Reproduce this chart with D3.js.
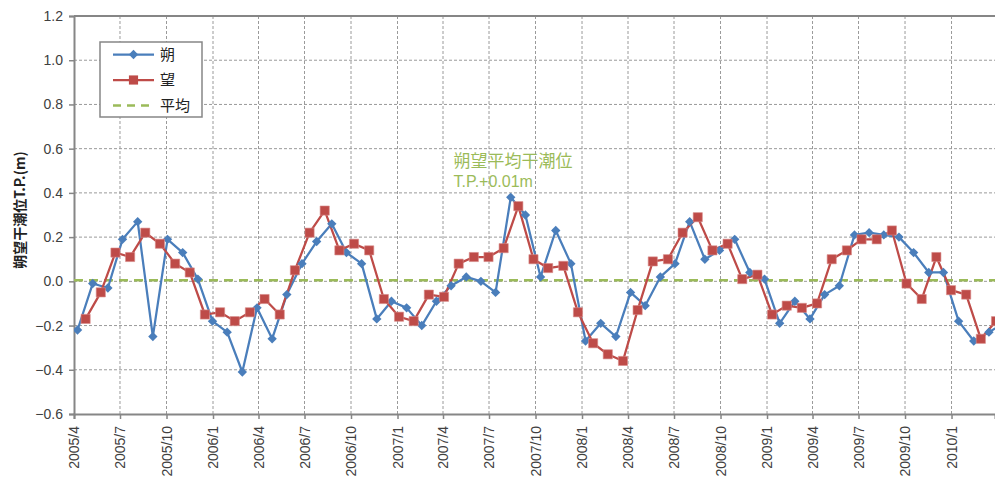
<!DOCTYPE html>
<html>
<head>
<meta charset="utf-8">
<script src="https://cdn.jsdelivr.net/npm/d3@7"></script>
<style>
  body { margin: 0; background: #fff; }
  #chart { width: 995px; height: 478px; }
  text { font-family: "Liberation Sans", "Noto Sans CJK JP", sans-serif; }
</style>
</head>
<body>
<div id="chart"></div>
<script>
// 朔 (new moon) dates and values
var sakuDates = [
  "2005-04-08","2005-05-08","2005-06-07","2005-07-06","2005-08-05","2005-09-04","2005-10-03","2005-11-02","2005-12-02","2005-12-31",
  "2006-01-29","2006-02-28","2006-03-29","2006-04-28","2006-05-27","2006-06-26","2006-07-25","2006-08-24","2006-09-22","2006-10-22","2006-11-21","2006-12-20",
  "2007-01-19","2007-02-18","2007-03-19","2007-04-17","2007-05-17","2007-06-15","2007-07-14","2007-08-13","2007-09-11","2007-10-11","2007-11-10","2007-12-10",
  "2008-01-08","2008-02-07","2008-03-08","2008-04-06","2008-05-05","2008-06-04","2008-07-03","2008-08-01","2008-08-31","2008-09-29","2008-10-29","2008-11-28","2008-12-27",
  "2009-01-26","2009-02-25","2009-03-27","2009-04-25","2009-05-24","2009-06-23","2009-07-22","2009-08-20","2009-09-19","2009-10-18","2009-11-17","2009-12-16",
  "2010-01-15","2010-02-14","2010-03-16","2010-04-14"
];
var sakuValues = [
  -0.22, -0.01, -0.03, 0.19, 0.27, -0.25, 0.19, 0.13, 0.01, -0.18,
  -0.23, -0.41, -0.12, -0.26, -0.06, 0.08, 0.18, 0.26, 0.13, 0.08, -0.17, -0.09,
  -0.12, -0.20, -0.09, -0.02, 0.02, 0.00, -0.05, 0.38, 0.30, 0.02, 0.23, 0.08,
  -0.27, -0.19, -0.25, -0.05, -0.11, 0.02, 0.08, 0.27, 0.10, 0.14, 0.19, 0.04, 0.01,
  -0.19, -0.09, -0.17, -0.06, -0.02, 0.21, 0.22, 0.21, 0.20, 0.13, 0.04, 0.04,
  -0.18, -0.27, -0.23, -0.19
];

// 望 (full moon) dates and values
var boDates = [
  "2005-04-24","2005-05-24","2005-06-22","2005-07-21","2005-08-20","2005-09-18","2005-10-18","2005-11-16","2005-12-16",
  "2006-01-15","2006-02-13","2006-03-15","2006-04-13","2006-05-13","2006-06-12","2006-07-11","2006-08-10","2006-09-08","2006-10-07","2006-11-06","2006-12-05",
  "2007-01-04","2007-02-02","2007-03-04","2007-04-03","2007-05-02","2007-06-01","2007-06-30","2007-07-30","2007-08-28","2007-09-27","2007-10-26","2007-11-25","2007-12-24",
  "2008-01-23","2008-02-21","2008-03-22","2008-04-20","2008-05-20","2008-06-19","2008-07-18","2008-08-17","2008-09-15","2008-10-15","2008-11-13","2008-12-13",
  "2009-01-11","2009-02-09","2009-03-11","2009-04-10","2009-05-09","2009-06-08","2009-07-07","2009-08-06","2009-09-05","2009-10-04","2009-11-03","2009-12-02","2009-12-31",
  "2010-01-30","2010-02-28","2010-03-30"
];
var boValues = [
  -0.17, -0.05, 0.13, 0.11, 0.22, 0.17, 0.08, 0.04, -0.15,
  -0.14, -0.18, -0.14, -0.08, -0.15, 0.05, 0.22, 0.32, 0.14, 0.17, 0.14, -0.08,
  -0.16, -0.18, -0.06, -0.07, 0.08, 0.11, 0.11, 0.15, 0.34, 0.10, 0.06, 0.07, -0.14,
  -0.28, -0.33, -0.36, -0.13, 0.09, 0.10, 0.22, 0.29, 0.14, 0.17, 0.01, 0.03,
  -0.15, -0.11, -0.12, -0.10, 0.10, 0.14, 0.19, 0.19, 0.23, -0.01, -0.08, 0.11, -0.04,
  -0.06, -0.26, -0.18
];

var meanLevel = 0.005;          // 朔望平均干潮位 T.P.+0.01m
var yTicks = [-0.6, -0.4, -0.2, 0.0, 0.2, 0.4, 0.6, 0.8, 1.0, 1.2];
var xStart = "2005-04-01", xEnd = "2010-03-28";
var seriesNames = ["朔", "望", "平均"];

var parse = d3.utcParse("%Y-%m-%d");
var saku = sakuDates.map(function(d, i) { return [parse(d), sakuValues[i]]; });
var bo = boDates.map(function(d, i) { return [parse(d), boValues[i]]; });

var margin = { top: 16, right: 0, bottom: 64, left: 74 };
var width = 995 - margin.left - margin.right;
var height = 478 - margin.top - margin.bottom;

var blue = "#4a7ebb", red = "#be4b48", green = "#9bbb59", axisCol = "#868686";

var svg = d3.select("#chart")
  .append("svg")
    .attr("width", 995)
    .attr("height", 478)
  .append("g")
    .attr("transform", "translate(" + margin.left + "," + margin.top + ")");

var x = d3.scaleUtc()
    .domain([parse(xStart), parse(xEnd)])
    .range([0, width]);

var y = d3.scaleLinear()
    .domain([-0.6, 1.2])
    .range([height, 0]);

var xTicks = d3.utcMonth.every(3).range(parse(xStart), parse(xEnd));

// grid
svg.append("g")
  .selectAll("line")
  .data(yTicks.slice(1))
  .enter().append("line")
    .attr("x1", 0).attr("x2", width)
    .attr("y1", function(d) { return y(d); })
    .attr("y2", function(d) { return y(d); })
    .attr("stroke", "#9a9a9a")
    .attr("stroke-dasharray", "3,2");

svg.append("g")
  .selectAll("line")
  .data(xTicks.slice(1))
  .enter().append("line")
    .attr("x1", function(d) { return x(d); })
    .attr("x2", function(d) { return x(d); })
    .attr("y1", 0).attr("y2", height)
    .attr("stroke", "#9a9a9a")
    .attr("stroke-dasharray", "3,2");

// axes
var yAxis = svg.append("g")
  .call(d3.axisLeft(y).tickValues(yTicks).tickSize(5)
    .tickFormat(function(d) { return d3.format(".1f")(d).replace("-", "\u2212"); }));

var xAxis = svg.append("g")
  .attr("transform", "translate(0," + height + ")")
  .call(d3.axisBottom(x).tickValues(xTicks).tickSize(5).tickFormat(d3.utcFormat("%Y/%-m")));

[yAxis, xAxis].forEach(function(a) {
  a.select(".domain").attr("stroke", axisCol).attr("stroke-width", 2);
  a.selectAll(".tick line").attr("stroke", axisCol).attr("stroke-width", 1.5);
  a.selectAll("text")
    .attr("fill", "#404040")
    .style("font-size", "14px")
    .style("font-family", "Liberation Sans, sans-serif");
});

yAxis.selectAll("text").attr("x", -11);

xAxis.selectAll("text")
  .attr("transform", "rotate(-90)")
  .attr("text-anchor", "end")
  .attr("x", -12)
  .attr("y", 0)
  .attr("dy", "0.35em");

// top border
svg.append("line")
  .attr("x1", 0).attr("x2", width)
  .attr("y1", 0).attr("y2", 0)
  .attr("stroke", axisCol)
  .attr("stroke-width", 2);

// y label
svg.append("text")
  .attr("transform", "translate(-49," + (height / 2 - 5) + ") rotate(-90)")
  .attr("text-anchor", "middle")
  .style("font-size", "14px")
  .style("font-weight", "bold")
  .style("font-family", "Noto Sans CJK JP, sans-serif")
  .attr("fill", "#222")
  .text("朔望干潮位T.P.(m)");

// plot clip
svg.append("clipPath")
    .attr("id", "clip")
  .append("rect")
    .attr("width", width)
    .attr("height", height + 10)
    .attr("y", -5);

var plot = svg.append("g").attr("clip-path", "url(#clip)");

// mean line
plot.append("line")
  .attr("x1", 0).attr("x2", width)
  .attr("y1", y(meanLevel)).attr("y2", y(meanLevel))
  .attr("stroke", green)
  .attr("stroke-width", 2.5)
  .attr("stroke-dasharray", "9,6");

var line = d3.line()
  .x(function(d) { return x(d[0]); })
  .y(function(d) { return y(d[1]); });

plot.append("path")
  .datum(saku)
  .attr("fill", "none")
  .attr("stroke", blue)
  .attr("stroke-width", 2.25)
  .attr("stroke-linejoin", "round")
  .attr("d", line);

plot.append("path")
  .datum(bo)
  .attr("fill", "none")
  .attr("stroke", red)
  .attr("stroke-width", 2.25)
  .attr("stroke-linejoin", "round")
  .attr("d", line);

var diamond = d3.symbol().type(d3.symbolDiamond2).size(56);
var square = d3.symbol().type(d3.symbolSquare).size(84);

plot.selectAll(".saku")
  .data(saku)
  .enter().append("path")
    .attr("class", "saku")
    .attr("transform", function(d) { return "translate(" + x(d[0]) + "," + y(d[1]) + ")"; })
    .attr("d", diamond)
    .attr("fill", blue);

plot.selectAll(".bo")
  .data(bo)
  .enter().append("path")
    .attr("class", "bo")
    .attr("transform", function(d) { return "translate(" + x(d[0]) + "," + y(d[1]) + ")"; })
    .attr("d", square)
    .attr("fill", red)
    .attr("stroke", "#d98c8a")
    .attr("stroke-width", 0.6);

// annotation
svg.append("text")
  .attr("x", x(parse("2007-04-22")))
  .attr("y", y(0.515))
  .attr("fill", green)
  .style("font-size", "17px")
  .style("font-family", "Noto Sans CJK JP, sans-serif")
  .text("朔望平均干潮位");

svg.append("text")
  .attr("x", x(parse("2007-04-22")))
  .attr("y", y(0.425))
  .attr("fill", green)
  .style("font-size", "16px")
  .text("T.P.+0.01m");

// legend
var legend = svg.append("g").attr("transform", "translate(26,26)");

legend.append("rect")
  .attr("width", 102)
  .attr("height", 75)
  .attr("fill", "#fff")
  .attr("stroke", axisCol)
  .attr("stroke-width", 1.5);

var rows = legend.selectAll(".row")
  .data(seriesNames)
  .enter().append("g")
    .attr("transform", function(d, i) { return "translate(0," + (12.5 + i * 25.5) + ")"; });

rows.append("line")
  .attr("x1", 13).attr("x2", 54)
  .attr("stroke", function(d, i) { return [blue, red, green][i]; })
  .attr("stroke-width", function(d, i) { return i == 2 ? 2.5 : 2.25; })
  .attr("stroke-dasharray", function(d, i) { return i == 2 ? "8,6" : null; });

rows.filter(function(d, i) { return i < 2; })
  .append("path")
    .attr("transform", "translate(33.5,0)")
    .attr("d", function(d, i) { return i == 0 ? diamond() : square(); })
    .attr("fill", function(d, i) { return i == 0 ? blue : red; });

rows.append("text")
  .attr("x", 60)
  .attr("dy", "0.35em")
  .attr("fill", "#222")
  .style("font-size", "15px")
  .style("font-family", "Noto Sans CJK JP, sans-serif")
  .text(function(d) { return d; });
</script>
</body>
</html>
